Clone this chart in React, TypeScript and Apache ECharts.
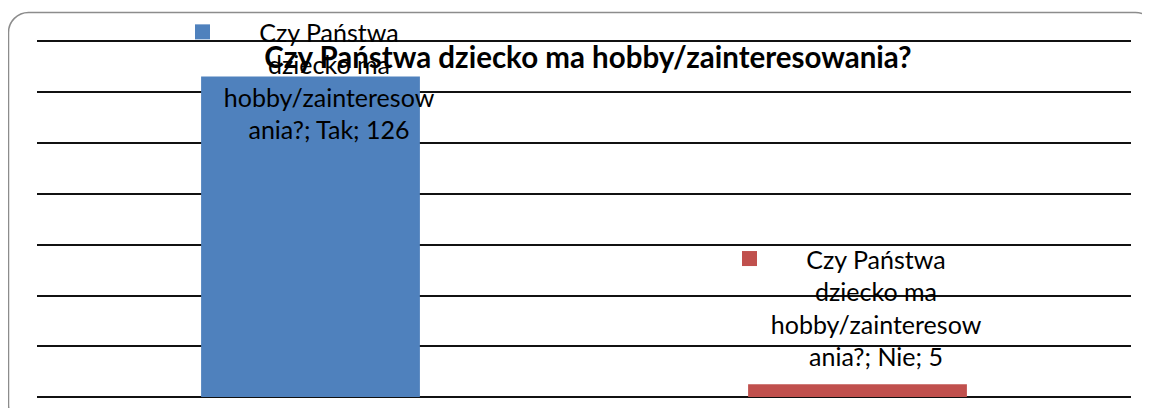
import React, { useEffect, useRef } from "react";
import * as echarts from "echarts";

const seriesName = "Czy Państwa dziecko ma hobby/zainteresowania?";
const categories = ["Tak", "Nie"];
const values = [126, 5];
const colors = ["#4F81BD", "#C0504D"];
const yTicks = { min: 0, max: 140, interval: 20 };

function wrap(text: string, maxChars: number): string[] {
  const words = text.split(" ");
  const lines: string[] = [];
  let cur = "";
  for (const w0 of words) {
    let w = w0;
    const cand = cur ? cur + " " + w : w;
    if (cand.length <= maxChars) {
      cur = cand;
      continue;
    }
    if (cur) lines.push(cur);
    cur = "";
    while (w.length > maxChars) {
      lines.push(w.slice(0, maxChars));
      w = w.slice(maxChars);
    }
    cur = w;
  }
  if (cur) lines.push(cur);
  return lines;
}

export default function App() {
  const ref = useRef<HTMLDivElement>(null);
  useEffect(() => {
    if (!ref.current) return;
    const chart = echarts.init(ref.current, null, { renderer: "svg" });
    const rich: any = {
      sp: { width: 13 },
      pad: { width: 28 },
      t: {
        width: 212,
        align: "center",
        fontFamily: "Lato",
        fontSize: 25,
        lineHeight: 32.5,
        color: "#000",
      },
    };
    colors.forEach((c, i) => {
      rich["key" + i] = { width: 15, height: 15, backgroundColor: c };
    });
    chart.setOption({
      animation: false,
      title: {
        text: seriesName,
        left: 583,
        textAlign: "center",
        top: 36,
        z: 10,
        textStyle: {
          fontFamily: "Lato",
          fontWeight: "bold",
          fontSize: 29.5,
          color: "#000",
        },
      },
      graphic: [
        {
          type: "rect",
          shape: { x: 8.5, y: 12.5, width: 1147, height: 412, r: 20 },
          style: { fill: "none", stroke: "#8c8c8c", lineWidth: 1.5 },
          silent: true,
        },
      ],
      grid: { left: 37, right: 19, top: 41, bottom: 19, containLabel: false },
      xAxis: {
        type: "category",
        data: categories,
        axisLine: { show: false },
        axisTick: { show: false },
        axisLabel: { show: false },
      },
      yAxis: {
        type: "value",
        min: yTicks.min,
        max: yTicks.max,
        interval: yTicks.interval,
        axisLabel: { show: false },
        axisLine: { show: false },
        axisTick: { show: false },
        splitLine: { lineStyle: { color: "#111", width: 2 } },
      },
      series: [
        {
          type: "bar",
          name: seriesName,
          barCategoryGap: "60%",
          data: values.map((v, i) => ({
            value: v,
            itemStyle: { color: colors[i] },
            label: i === 0 ? { offset: [4.5, 81] } : undefined,
          })),
          label: {
            show: true,
            position: "top",
            distance: 12,
            offset: [4.5, 0],
            rich,
            formatter: (p: any) => {
              const lines = wrap(`${p.seriesName}; ${p.name}; ${p.value}`, 17);
              return lines
                .map((l, j) =>
                  j === 0 ? `{key${p.dataIndex}|}{sp|}{t|${l}}` : `{pad|}{t|${l}}`
                )
                .join("\n");
            },
          },
        },
      ],
    });
    return () => chart.dispose();
  }, []);
  return <div ref={ref} style={{ width: 1150, height: 416, margin: -8 }} />;
}
